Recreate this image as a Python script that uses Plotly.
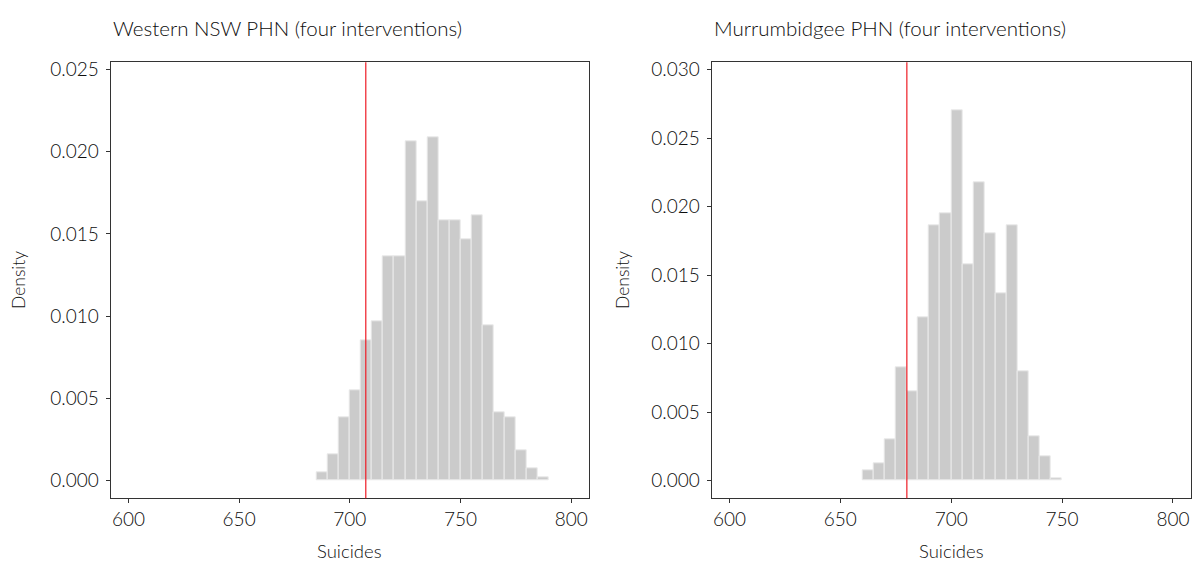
import plotly.graph_objects as go

# ---- data ----
bin_width = 5
west_start = 685
west_density = [0.00049, 0.00158, 0.00383, 0.00547, 0.00855, 0.00968, 0.01361, 0.01361,
                0.02060, 0.01699, 0.02090, 0.01582, 0.01582, 0.01470, 0.01614, 0.00942,
                0.00413, 0.00383, 0.00182, 0.00077, 0.00022]
west_ref = 707.2

murr_start = 660
murr_density = [0.00073, 0.00131, 0.00302, 0.00831, 0.00656, 0.01191, 0.01862, 0.01950,
                0.02703, 0.01582, 0.02176, 0.01808, 0.01367, 0.01862, 0.00802, 0.00328,
                0.00182, 0.00018]
murr_ref = 680.0

titles = ["Western NSW PHN (four interventions)", "Murrumbidgee PHN (four interventions)"]
x_ticks = [600, 650, 700, 750, 800]

W, H = 1195, 569
FONT = "Lato"
TXT = "#0d0d0d"


def px(x):
    return x / W


def py(y):
    return 1 - y / H


fig = go.Figure()

panels = [
    dict(start=west_start, dens=west_density, ref=west_ref, title=titles[0],
         xdom=[110.7, 589.0], yrange=[-0.00107, 0.02543], xa="x", ya="y", ytx=18),
    dict(start=murr_start, dens=murr_density, ref=murr_ref, title=titles[1],
         xdom=[711.7, 1190.7], yrange=[-0.00128, 0.03055], xa="x2", ya="y2", ytx=622),
]
ydom = [py(498.3), py(62.3)]

for i, p in enumerate(panels):
    centers = [p["start"] + bin_width * (k + 0.5) for k in range(len(p["dens"]))]
    fig.add_trace(go.Bar(
        x=centers, y=p["dens"], width=[bin_width] * len(centers),
        marker=dict(color="#CBCBCB", line=dict(color="#EAEAEA", width=1)),
        xaxis=p["xa"], yaxis=p["ya"], showlegend=False, hoverinfo="skip"))
    sfx = "" if i == 0 else "2"
    axis_common = dict(showline=True, linecolor="#333333", linewidth=1.2, mirror=True,
                       ticks="outside", ticklen=4, tickcolor="#333333", tickwidth=1,
                       showgrid=False, zeroline=False, automargin=False,
                       tickfont=dict(family=FONT, size=19, color=TXT, weight=300))
    fig.update_layout(**{
        "xaxis" + sfx: dict(domain=[px(p["xdom"][0]), px(p["xdom"][1])],
                            range=[592.0, 808.0], tickvals=x_ticks,
                            anchor="y" + sfx, **axis_common),
        "yaxis" + sfx: dict(domain=ydom, range=p["yrange"], dtick=0.005, tick0=0,
                            tickformat=".3f", anchor="x" + sfx,
                            ticklabelstandoff=3, **axis_common),
    })
    fig.add_shape(type="line", xref=p["xa"], yref=p["ya"] + " domain",
                  x0=p["ref"], x1=p["ref"], y0=0, y1=1,
                  line=dict(color="#EE1C25", width=1.2), layer="above")
    fig.add_annotation(text=p["title"], xref="paper", yref="paper",
                       x=px(p["xdom"][0]), y=py(28), xanchor="left", yanchor="middle",
                       showarrow=False, font=dict(family=FONT, size=20.5, color=TXT, weight=300))
    fig.add_annotation(text="Suicides", xref="paper", yref="paper",
                       x=px((p["xdom"][0] + p["xdom"][1]) / 2), y=py(551),
                       xanchor="center", yanchor="middle", showarrow=False,
                       font=dict(family=FONT, size=18.5, color=TXT, weight=300))
    fig.add_annotation(text="Density", xref="paper", yref="paper",
                       x=px(p["ytx"]), y=py(280), textangle=-90,
                       xanchor="center", yanchor="middle", showarrow=False,
                       font=dict(family=FONT, size=17.5, color=TXT, weight=300))

fig.update_layout(width=W, height=H, margin=dict(l=0, r=0, t=0, b=0),
                  plot_bgcolor="white", paper_bgcolor="white", bargap=0,
                  hovermode=False)

fig.write_html("out.html", config={"displayModeBar": False},
               post_script="document.body.style.margin='0px';document.body.style.overflow='hidden';")
